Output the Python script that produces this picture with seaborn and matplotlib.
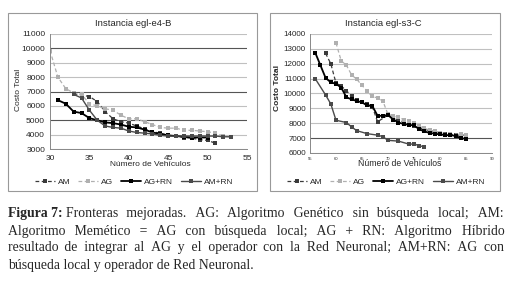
import matplotlib
matplotlib.use("Agg")
import matplotlib.pyplot as plt
from matplotlib.patches import Rectangle
import seaborn as sns
import pandas as pd

# ---------------- data ----------------
series_names = ["AM", "AG", "AG+RN", "AM+RN"]

# Instancia egl-e4-B
e4_am_x = [33, 35, 36, 37, 38, 39, 40, 41, 42, 43, 44, 45, 46, 47, 48, 49, 50, 51]
e4_am_y = [6850, 6650, 6300, 5600, 5100, 4900, 4800, 4600, 4400, 4200, 4100, 3950, 3900, 3800, 3750, 3650, 3600, 3400]
e4_ag_x = [30, 31, 32, 33, 34, 35, 36, 37, 38, 39, 40, 41, 42, 43, 44, 45, 46, 47, 48, 49, 50, 51, 52, 53]
e4_ag_y = [9850, 8000, 7200, 6900, 6800, 6150, 6000, 5800, 5700, 5350, 5100, 5100, 4900, 4700, 4500, 4450, 4450, 4300, 4300, 4250, 4200, 4100, 3900, 3850]
e4_agrn_x = [31, 32, 33, 34, 35, 36, 37, 38, 39, 40, 41, 42, 43, 44, 45, 46, 47, 48, 49, 50]
e4_agrn_y = [6400, 6150, 5600, 5500, 5150, 5000, 4850, 4800, 4700, 4550, 4500, 4350, 4150, 4050, 3950, 3900, 3850, 3800, 3800, 3800]
e4_amrn_x = [33, 34, 35, 36, 37, 38, 39, 40, 41, 42, 43, 44, 45, 46, 47, 48, 49, 50, 51, 52, 53]
e4_amrn_y = [6800, 6550, 5700, 5000, 4600, 4500, 4450, 4250, 4150, 4100, 4050, 3950, 3900, 3900, 3900, 3900, 3900, 3900, 3900, 3850, 3850]

# Instancia egl-s3-C
s3_am_x = [58, 59, 60, 61, 62, 63, 64, 65, 66, 67, 68, 70, 71, 72, 73, 74, 75, 76, 77, 78, 79, 80, 81, 82, 83, 84, 85]
s3_am_y = [12700, 12000, 10700, 10500, 10200, 9800, 9550, 9450, 9300, 9100, 8100, 8550, 8400, 8200, 8100, 8000, 7800, 7700, 7600, 7500, 7450, 7350, 7300, 7250, 7200, 7200, 7200]
s3_ag_x = [60, 61, 62, 63, 64, 65, 66, 67, 68, 69, 70, 71, 72, 73, 74, 75, 76, 77, 78, 79, 80, 82, 84, 85]
s3_ag_y = [13400, 12200, 11900, 11250, 10950, 10550, 10150, 9800, 9700, 9500, 8600, 8500, 8400, 8250, 8150, 8000, 7800, 7650, 7550, 7450, 7350, 7300, 7250, 7200]
s3_agrn_x = [56, 57, 58, 59, 60, 61, 62, 63, 64, 65, 66, 67, 68, 69, 70, 71, 72, 73, 74, 75, 76, 77, 78, 79, 80, 81, 82, 83, 84, 85]
s3_agrn_y = [12750, 11900, 11050, 10750, 10650, 10400, 9750, 9600, 9500, 9400, 9200, 9150, 8500, 8500, 8550, 8250, 8050, 7950, 7900, 7850, 7600, 7450, 7350, 7300, 7250, 7200, 7200, 7150, 7000, 6950]
s3_amrn_x = [56, 58, 59, 60, 62, 63, 64, 66, 68, 69, 70, 72, 74, 75, 76, 77]
s3_amrn_y = [11000, 9900, 9300, 8200, 8050, 7750, 7500, 7300, 7200, 7100, 6850, 6800, 6600, 6600, 6500, 6400]

e4_xticks = [30, 35, 40, 45, 50, 55]
e4_yticks = [3000, 4000, 5000, 6000, 7000, 8000, 9000, 10000, 11000]
s3_xticks = [55, 60, 65, 70, 75, 80, 85, 90]
s3_yticks = [6000, 7000, 8000, 9000, 10000, 11000, 12000, 13000, 14000]

caption_bold = "Figura 7:"
caption_lines = [
    "Fronteras mejoradas. AG: Algoritmo Genético sin búsqueda local; AM:",
    "Algoritmo Memético = AG con búsqueda local; AG + RN: Algoritmo Híbrido",
    "resultado de integrar al AG y el operador con la Red Neuronal; AM+RN: AG con",
    "búsqueda local y operador de Red Neuronal.",
]

# ---------------- style ----------------
sns.set_style("white")
plt.rcParams["font.family"] = ["Liberation Sans", "DejaVu Sans"]

styles = {
    "AM": dict(color="#3a3a3a", linestyle=(0, (3, 2)), lw=0.9, ms=2.2),
    "AG": dict(color="#b0b0b0", linestyle=(0, (3, 2)), lw=0.9, ms=2.2),
    "AG+RN": dict(color="#000000", linestyle="-", lw=1.3, ms=2.2),
    "AM+RN": dict(color="#4a4a4a", linestyle="-", lw=1.0, ms=2.2),
}

W, H = 510, 284
fig = plt.figure(figsize=(W / 100, H / 100), dpi=100)


def fx(px):
    return px / W


def fy(py):
    return 1 - py / H


def draw_panel(ax, data, xlim, ylim, xticks, yticks, dark_vals, xtick_fs, xpad, ytick_fs, ypad):
    for name, (xs, ys) in zip(series_names, data):
        st = styles[name]
        df = pd.DataFrame({"x": xs, "y": ys})
        sns.lineplot(data=df, x="x", y="y", ax=ax, color=st["color"],
                     linestyle=st["linestyle"], linewidth=st["lw"],
                     marker="s", markersize=st["ms"], markeredgewidth=0,
                     label=name, legend=False, sort=False)
    ax.set_xlim(*xlim)
    ax.set_ylim(*ylim)
    ax.set_xticks(xticks)
    ax.set_yticks(yticks)
    ax.tick_params(axis="x", labelsize=xtick_fs, length=2, width=0.6, color="#888", pad=xpad)
    ax.tick_params(axis="y", labelsize=ytick_fs, length=2, width=0.6, color="#888", pad=ypad)
    for s in ["top", "right"]:
        ax.spines[s].set_visible(False)
    for s in ["left", "bottom"]:
        ax.spines[s].set_color("#888")
        ax.spines[s].set_linewidth(0.7)
    ax.set_axisbelow(True)
    ax.yaxis.grid(True, color="#c0c0c0", linewidth=0.8)
    ax.figure.canvas.draw()
    for val, gl in zip(ax.get_yticks(), ax.get_ygridlines()):
        if val in dark_vals:
            gl.set_color("#555555")
    ax.set_xlabel("")
    ax.set_ylabel("")


# left panel
fig.add_artist(Rectangle((fx(8), fy(191)), fx(257) - fx(8), fy(13) - fy(191),
                         transform=fig.transFigure, fill=False, edgecolor="#999", lw=0.8))
ax1 = fig.add_axes([fx(50), fy(149), fx(247) - fx(50), fy(34) - fy(149)])
draw_panel(ax1,
           [(e4_am_x, e4_am_y), (e4_ag_x, e4_ag_y), (e4_agrn_x, e4_agrn_y), (e4_amrn_x, e4_amrn_y)],
           (30, 55), (3000, 11000), e4_xticks, e4_yticks, {10000, 7000, 5000}, 6, 2.5, 6, 1.5)
fig.text(fx(133), fy(23), "Instancia egl-e4-B", ha="center", va="center", fontsize=6.8)
fig.text(fx(19), fy(90), "Costo Total", rotation=90, ha="center", va="center", fontsize=6)
fig.text(fx(150), fy(165), "Número de Vehículos", ha="center", va="center", fontsize=6)
h, l = ax1.get_legend_handles_labels()
fig.legend(h, l, loc="center", bbox_to_anchor=(fx(134), fy(182)), ncol=4, frameon=False,
           fontsize=6, handlelength=2.4, handletextpad=0.3, columnspacing=1.0)

# right panel
fig.add_artist(Rectangle((fx(270), fy(191)), fx(500) - fx(270), fy(13) - fy(191),
                         transform=fig.transFigure, fill=False, edgecolor="#999", lw=0.8))
ax2 = fig.add_axes([fx(310), fy(153), fx(492) - fx(310), fy(34) - fy(153)])
draw_panel(ax2,
           [(s3_am_x, s3_am_y), (s3_ag_x, s3_ag_y), (s3_agrn_x, s3_agrn_y), (s3_amrn_x, s3_amrn_y)],
           (55, 90), (6000, 14000), s3_xticks, s3_yticks, {7000}, 3.0, 0.8, 5.8, 1.0)
fig.text(fx(383), fy(23), "Instancia egl-s3-C", ha="center", va="center", fontsize=6.8)
fig.text(fx(278), fy(88), "Costo Total", rotation=90, ha="center", va="center", fontsize=6,
         weight="bold")
fig.text(fx(400), fy(164), "Número de Vehículos", ha="center", va="center", fontsize=6.2)
h, l = ax2.get_legend_handles_labels()
fig.legend(h, l, loc="center", bbox_to_anchor=(fx(386), fy(182)), ncol=4, frameon=False,
           fontsize=6, handlelength=2.4, handletextpad=0.3, columnspacing=1.0)

# ---------------- caption (justified with hair spaces) ----------------
cap_family = ["Liberation Serif", "DejaVu Serif"]
cap_fs = 9.9
renderer = fig.canvas.get_renderer()
x0, x1 = 8, 502
baselines = [217, 234.5, 251.5, 268.5]
HAIR = "\u200a"


def text_width(s, weight="normal"):
    t = fig.text(0, 0, s, fontsize=cap_fs, family=cap_family, weight=weight)
    w = t.get_window_extent(renderer).width
    t.remove()
    return w


hair_w = text_width("a" + HAIR * 10 + "a") - text_width("aa")
hair_w /= 10.0
bold_w = text_width(caption_bold + " ", weight="bold")

for li, (line, yb) in enumerate(zip(caption_lines, baselines)):
    start = x0
    if li == 0:
        fig.text(fx(x0), fy(yb), caption_bold, fontsize=cap_fs, family=cap_family,
                 weight="bold", va="baseline", ha="left")
        start = x0 + bold_w
    words = line.split(" ")
    if li < len(caption_lines) - 1 and hair_w > 0.2:
        natural = text_width(line)
        extra = (x1 - start) - natural
        n_hair = max(0, int(round(extra / hair_w)))
        gaps = len(words) - 1
        out = words[0]
        for gi in range(gaps):
            k = n_hair * (gi + 1) // gaps - n_hair * gi // gaps
            out += " " + HAIR * k + words[gi + 1]
        s = out
    else:
        s = line
    fig.text(fx(start), fy(yb), s, fontsize=cap_fs, family=cap_family,
             va="baseline", ha="left")

fig.savefig("out.png", dpi=100)
